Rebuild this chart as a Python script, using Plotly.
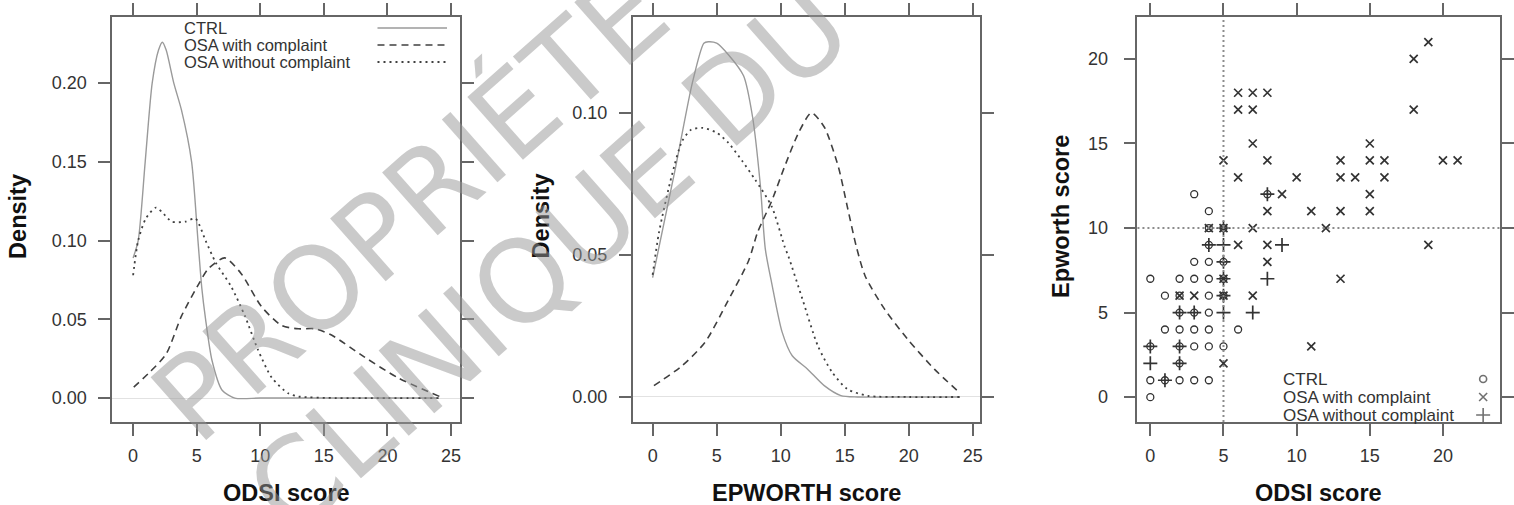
import plotly.graph_objects as go

W, H = 1514, 505

# ---- density curves: ODSI score ----
odsi_ctrl_x = [0, 0.4, 0.95, 1.5, 2.0, 2.3, 2.6, 3.2, 3.8, 4.6, 5.1, 5.4, 5.7, 6.2, 7.0, 8.0, 10, 15, 20, 24]
odsi_ctrl_y = [0.089, 0.10, 0.15, 0.20, 0.221, 0.226, 0.221, 0.20, 0.183, 0.15, 0.10, 0.07, 0.05, 0.024, 0.005, 0.0, 0, 0, 0, 0]
odsi_with_x = [0.05, 1.25, 2.6, 3.8, 5.2, 5.9, 7.2, 8.5, 10.1, 11.7, 13.0, 14.3, 15.6, 18.2, 20.8, 24.1]
odsi_with_y = [0.007, 0.016, 0.028, 0.052, 0.073, 0.082, 0.089, 0.079, 0.058, 0.046, 0.044, 0.044, 0.040, 0.026, 0.013, 0.001]
odsi_without_x = [0, 0.4, 1.0, 1.8, 2.4, 3.05, 4.1, 4.9, 5.7, 6.5, 7.7, 8.8, 9.8, 10.9, 12.2, 13, 16, 20, 24.1]
odsi_without_y = [0.078, 0.10, 0.114, 0.121, 0.117, 0.112, 0.112, 0.114, 0.10, 0.086, 0.071, 0.052, 0.031, 0.013, 0.003, 0.001, 0, 0, 0]

# ---- density curves: EPWORTH score ----
epw_ctrl_x = [0, 1.8, 3.1, 4.0, 4.35, 5.0, 5.9, 7.1, 7.8, 8.4, 8.8, 9.3, 10.1, 10.9, 12.1, 13.4, 14.7, 16, 20, 24]
epw_ctrl_y = [0.042, 0.081, 0.1105, 0.1245, 0.125, 0.1245, 0.1205, 0.113, 0.0986, 0.075, 0.052, 0.040, 0.023, 0.0145, 0.0098, 0.004, 0.0005, 0, 0, 0]
epw_with_x = [0.1, 2.3, 4.1, 5.9, 7.5, 8.2, 9.3, 10.3, 11.4, 12.4, 13.4, 14.5, 15.2, 15.9, 16.6, 18.1, 19.9, 22.0, 23.9]
epw_with_y = [0.004, 0.011, 0.0193, 0.034, 0.048, 0.058, 0.069, 0.081, 0.093, 0.100, 0.095, 0.081, 0.067, 0.053, 0.0425, 0.031, 0.0204, 0.0098, 0.0018]
epw_without_x = [0, 0.5, 1.5, 2.3, 3.0, 3.9, 5.0, 5.9, 7.0, 8.0, 9.3, 10.3, 10.6, 11.7, 12.9, 14.0, 15.2, 16.8, 20, 24]
epw_without_y = [0.043, 0.058, 0.078, 0.090, 0.094, 0.0947, 0.093, 0.0895, 0.083, 0.0765, 0.067, 0.053, 0.0495, 0.0344, 0.018, 0.0088, 0.0028, 0.0004, 0, 0]

# ---- individual scores: ODSI vs Epworth ----
ctrl_odsi = [0, 0, 1, 2, 3, 4, 0, 2, 2, 3, 4, 5, 1, 2, 3, 4, 6, 2, 3, 4, 1, 2, 4, 5,
             0, 2, 3, 4, 5, 3, 4, 5, 4, 4, 5, 4, 3, 8]
ctrl_epw = [0, 1, 1, 1, 1, 1, 3, 2, 3, 3, 3, 3, 4, 4, 4, 4, 4, 5, 5, 5, 6, 6, 6, 6,
            7, 7, 7, 7, 7, 8, 8, 8, 9, 10, 10, 11, 12, 12]
with_odsi = [5, 11, 2, 3, 5, 7, 5, 13, 8, 6, 8, 19, 4, 5, 7, 12, 8, 11, 13, 15, 9, 15,
             6, 10, 13, 14, 16, 5, 8, 13, 15, 16, 20, 21, 7, 15, 6, 7, 18, 6, 7, 8, 18, 19]
with_epw = [2, 3, 6, 6, 6, 6, 7, 7, 8, 9, 9, 9, 10, 10, 10, 10, 11, 11, 11, 11, 12, 12,
            13, 13, 13, 13, 13, 14, 14, 14, 14, 14, 14, 14, 15, 15, 17, 17, 17, 18, 18, 18, 20, 21]
without_odsi = [0, 0, 1, 2, 2, 2, 3, 5, 7, 5, 5, 8, 5, 4, 5, 9, 5, 8]
without_epw = [2, 3, 1, 2, 3, 5, 5, 5, 5, 6, 7, 7, 8, 9, 9, 9, 10, 12]

groups = ["CTRL", "OSA with complaint", "OSA without complaint"]

FONT = "Liberation Sans, Arial, sans-serif"
INK = "#333333"
FRAME = "#666666"


def px(xp):
    return xp / W


def py(yp):
    return 1 - yp / H


fig = go.Figure()

line_styles = {
    "CTRL": dict(color="#9a9a9a", width=1.4, dash="solid"),
    "OSA with complaint": dict(color="#404040", width=1.6, dash="7px,5px"),
    "OSA without complaint": dict(color="#404040", width=1.8, dash="2px,4px"),
}

density_sets = [
    ("x", "y", [(odsi_ctrl_x, odsi_ctrl_y), (odsi_with_x, odsi_with_y), (odsi_without_x, odsi_without_y)]),
    ("x2", "y2", [(epw_ctrl_x, epw_ctrl_y), (epw_with_x, epw_with_y), (epw_without_x, epw_without_y)]),
]
for xa, ya, curves in density_sets:
    for name, (cx, cy) in zip(groups, curves):
        fig.add_trace(go.Scatter(
            x=cx, y=cy, mode="lines", name=name, xaxis=xa, yaxis=ya,
            line=dict(shape="spline", smoothing=0.7, **line_styles[name]),
            showlegend=False, hoverinfo="skip"))

marker_styles = {
    "CTRL": dict(symbol="circle-open", size=7, line=dict(width=1.3, color="#333333")),
    "OSA with complaint": dict(symbol="x-thin-open", size=8, line=dict(width=1.7, color="#333333")),
    "OSA without complaint": dict(symbol="cross-thin-open", size=10, line=dict(width=1.7, color="#333333")),
}
for name, sx, sy in zip(groups, [ctrl_odsi, with_odsi, without_odsi], [ctrl_epw, with_epw, without_epw]):
    fig.add_trace(go.Scatter(
        x=sx, y=sy, mode="markers", name=name, xaxis="x3", yaxis="y3",
        marker=dict(color="#333333", **marker_styles[name]),
        showlegend=False, hoverinfo="skip"))

# legend keys drawn on a full-page pixel layer
fig.add_trace(go.Scatter(
    x=[1493, 1493, 1493], y=[379, 397, 415], mode="markers", xaxis="x4", yaxis="y4",
    marker=dict(color="#333333", symbol=[marker_styles[g]["symbol"] for g in groups],
                size=[marker_styles[g]["size"] for g in groups],
                line=dict(width=1.6, color="#333333")),
    showlegend=False, hoverinfo="skip"))
for name, yk in zip(groups, [28, 45, 62]):
    fig.add_trace(go.Scatter(
        x=[380, 450], y=[yk, yk], mode="lines", xaxis="x4", yaxis="y4",
        line=line_styles[name], showlegend=False, hoverinfo="skip"))

axis_common = dict(
    showline=True, linecolor=FRAME, linewidth=1.8, mirror="allticks",
    ticks="outside", ticklen=12, tickwidth=1.6, tickcolor=FRAME,
    showgrid=False, zeroline=False,
    tickfont=dict(family=FONT, size=18, color=INK),
)

# panel boxes in pixels
P1 = (113, 463)
P2 = (637, 987)
P3 = (1145, 1510)
TOP, BOT = 17, 422

fig.update_layout(
    width=W, height=H, margin=dict(l=0, r=0, t=0, b=0),
    paper_bgcolor="white", plot_bgcolor="rgba(0,0,0,0)",
    font=dict(family=FONT, color=INK),
    xaxis=dict(domain=[px(P1[0]), px(P1[1])], range=[-1.64, 25.7], tickvals=[0, 5, 10, 15, 20, 25],
               anchor="y", ticklabelstandoff=4, **axis_common),
    yaxis=dict(domain=[py(BOT), py(TOP)], range=[-0.0152, 0.242], tickvals=[0, 0.05, 0.10, 0.15, 0.20],
               tickformat=".2f", anchor="x", ticklabelstandoff=8,
               **{**axis_common, "zeroline": True}, zerolinecolor="#e2e2e2", zerolinewidth=1.2),
    xaxis2=dict(domain=[px(P2[0]), px(P2[1])], range=[-1.55, 25.6], tickvals=[0, 5, 10, 15, 20, 25],
                anchor="y2", ticklabelstandoff=4, **axis_common),
    yaxis2=dict(domain=[py(BOT), py(TOP)], range=[-0.0088, 0.1337], tickvals=[0, 0.05, 0.10],
                tickformat=".2f", anchor="x2", ticklabelstandoff=8,
                **{**axis_common, "zeroline": True}, zerolinecolor="#e2e2e2", zerolinewidth=1.2),
    xaxis3=dict(domain=[px(P3[0]), px(P3[1])], range=[-0.88, 23.9], tickvals=[0, 5, 10, 15, 20],
                anchor="y3", ticklabelstandoff=4, **axis_common),
    yaxis3=dict(domain=[py(BOT), py(TOP)], range=[-1.47, 22.48], tickvals=[0, 5, 10, 15, 20],
                anchor="x3", ticklabelstandoff=12, **axis_common),
    xaxis4=dict(domain=[0, 1], range=[0, W], visible=False, anchor="y4", fixedrange=True),
    yaxis4=dict(domain=[0, 1], range=[H, 0], visible=False, anchor="x4", fixedrange=True),
)

# dotted reference lines at ODSI 5 and Epworth 10
fig.add_shape(type="line", xref="x3", yref="y3 domain", x0=5, x1=5, y0=0, y1=1,
              line=dict(color="#8c8c8c", width=2, dash="2px,3px"))
fig.add_shape(type="line", xref="x3 domain", yref="y3", x0=0, x1=1, y0=10, y1=10,
              line=dict(color="#8c8c8c", width=2, dash="2px,3px"))

annotations = []
# axis titles
for text, xc in [("ODSI score", 288), ("EPWORTH score", 812), ("ODSI score", 1327)]:
    annotations.append(dict(text="<b>" + text + "</b>", x=px(xc), y=py(493), xref="paper", yref="paper",
                            showarrow=False, font=dict(family=FONT, size=23.5, color="#111"),
                            xanchor="center", yanchor="middle"))
for text, xc in [("Density", 18), ("Density", 545), ("Epworth score", 1068)]:
    annotations.append(dict(text="<b>" + text + "</b>", x=px(xc), y=py(216), xref="paper", yref="paper",
                            showarrow=False, textangle=-90, font=dict(family=FONT, size=23.5, color="#111"),
                            xanchor="center", yanchor="middle"))

# legend labels
for name, yk in zip(groups, [28, 45, 62]):
    annotations.append(dict(text=name, x=px(183), y=py(yk), xref="paper", yref="paper",
                            showarrow=False, xanchor="left", yanchor="middle",
                            font=dict(family=FONT, size=16.5, color=INK)))
for name, yk in zip(groups, [379, 397, 415]):
    annotations.append(dict(text=name, x=px(1290), y=py(yk), xref="paper", yref="paper",
                            showarrow=False, xanchor="left", yanchor="middle",
                            font=dict(family=FONT, size=17, color=INK)))

# watermark
for text, xc, yc in [("PROPRIÉTÉ", 413, 206), ("CLINIQUE DU", 552, 259)]:
    annotations.append(dict(text=text, x=px(xc), y=py(yc), xref="paper", yref="paper",
                            showarrow=False, textangle=-41.5, xanchor="center", yanchor="middle",
                            font=dict(family="DejaVu Sans", size=115, color="rgba(150,150,150,0.5)")))

fig.update_layout(annotations=annotations)

fig.write_html("out.html")
